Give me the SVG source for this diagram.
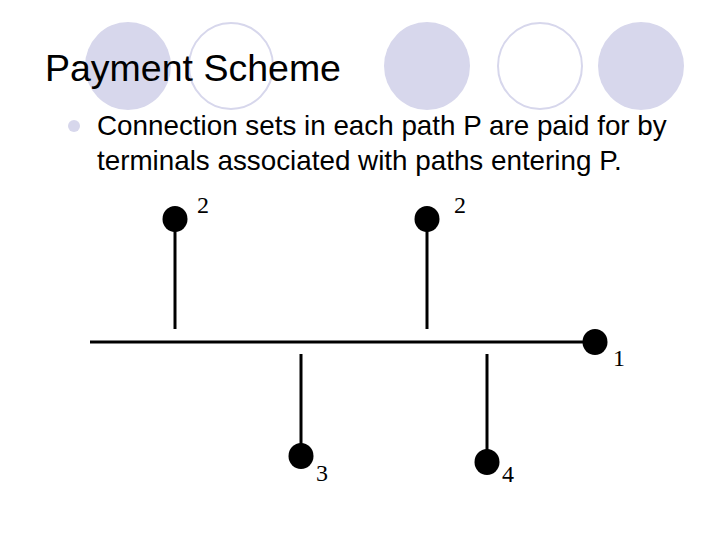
<svg xmlns="http://www.w3.org/2000/svg" width="720" height="540" viewBox="0 0 720 540">
<style>
.deco{fill:#d7d7ec}
.ring{fill:none;stroke:#d7d7ec;stroke-width:2}
.title{font-family:"Liberation Sans",Arial,sans-serif;font-size:37.5px;fill:#000}
.body{font-family:"Liberation Sans",Arial,sans-serif;font-size:27.8px;fill:#000}
.lbl{font-family:"Liberation Serif","Times New Roman",serif;font-size:24px;fill:#000}
.wire{stroke:#000;stroke-width:3;fill:none}
.dot{fill:#000}
</style>
<rect width="720" height="540" fill="#fff"/>
<g id="decor">
<ellipse class="deco" cx="128" cy="66" rx="43" ry="44"/>
<ellipse class="ring" cx="231" cy="66" rx="42" ry="43"/>
<ellipse class="deco" cx="427" cy="66" rx="43" ry="44"/>
<ellipse class="ring" cx="540" cy="66" rx="42" ry="43"/>
<ellipse class="deco" cx="641" cy="66" rx="43" ry="44"/>
</g>
<text class="title" x="45" y="81">Payment Scheme</text>
<circle class="deco" cx="74" cy="126" r="6"/>
<text class="body" x="97" y="135">Connection sets in each path P are paid for by</text>
<text class="body" x="97" y="170">terminals associated with paths entering P.</text>
<g id="connectors">
<line class="wire" x1="90" y1="342" x2="595" y2="342"/>
<line class="wire" x1="175" y1="219" x2="175" y2="329"/>
<line class="wire" x1="427" y1="219" x2="427" y2="329"/>
<line class="wire" x1="301" y1="354" x2="301" y2="456"/>
<line class="wire" x1="487" y1="354" x2="487" y2="462"/>
</g>
<g id="n2a"><ellipse class="dot" cx="175" cy="219" rx="12.5" ry="13"/><text class="lbl" x="197" y="213">2</text></g>
<g id="n2b"><ellipse class="dot" cx="427" cy="219" rx="12.5" ry="13"/><text class="lbl" x="454" y="213">2</text></g>
<g id="n1"><ellipse class="dot" cx="595" cy="342" rx="12.5" ry="13"/><text class="lbl" x="613" y="366">1</text></g>
<g id="n3"><ellipse class="dot" cx="301" cy="456" rx="12.5" ry="13"/><text class="lbl" x="316" y="481">3</text></g>
<g id="n4"><ellipse class="dot" cx="487" cy="462" rx="12.5" ry="13"/><text class="lbl" x="502" y="482">4</text></g>
</svg>
